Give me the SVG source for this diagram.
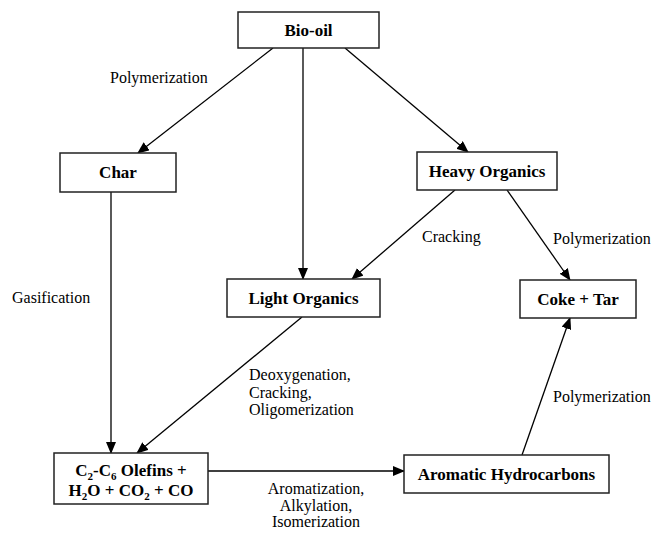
<svg xmlns="http://www.w3.org/2000/svg" width="654" height="534" viewBox="0 0 654 534">
<style>
.box{fill:#fff;stroke:#222;stroke-width:1.5}
.bl{font-family:"Liberation Serif","Times New Roman",serif;font-weight:bold;font-size:17px;fill:#000;text-anchor:middle}
.lb{font-family:"Liberation Serif","Times New Roman",serif;font-size:16px;fill:#000}
.ln{stroke:#000;stroke-width:1.3;fill:none;marker-end:url(#ah)}
</style>
<defs>
<marker id="ah" markerWidth="12" markerHeight="10" refX="11" refY="5" orient="auto" markerUnits="userSpaceOnUse">
<path d="M0,0 L12,5 L0,10 Z" fill="#000"/>
</marker>
</defs>
<rect width="654" height="534" fill="#fff"/>
<g id="connectors">
<line class="ln" x1="273" y1="48" x2="138" y2="153"/>
<line class="ln" x1="303" y1="48" x2="303" y2="279"/>
<line class="ln" x1="345" y1="48" x2="468" y2="152"/>
<line class="ln" x1="455" y1="190" x2="352" y2="279"/>
<line class="ln" x1="507" y1="190" x2="570" y2="280"/>
<line class="ln" x1="111" y1="192" x2="111" y2="453"/>
<line class="ln" x1="302" y1="317" x2="137" y2="453"/>
<line class="ln" x1="208" y1="471" x2="404" y2="471"/>
<line class="ln" x1="522" y1="455" x2="570" y2="318"/>
</g>
<g id="bio-oil"><rect class="box" x="238" y="12" width="141" height="36"/><text class="bl" x="308.5" y="36">Bio-oil</text></g>
<g id="char"><rect class="box" x="60" y="153" width="116" height="39"/><text class="bl" x="118" y="178">Char</text></g>
<g id="heavy"><rect class="box" x="417" y="152" width="140" height="38"/><text class="bl" x="487" y="177">Heavy Organics</text></g>
<g id="light"><rect class="box" x="227" y="279" width="153" height="38"/><text class="bl" x="303.5" y="304">Light Organics</text></g>
<g id="coke"><rect class="box" x="520" y="280" width="116" height="38"/><text class="bl" x="578" y="305">Coke + Tar</text></g>
<g id="olefins"><rect class="box" x="54" y="453" width="154" height="51"/>
<text class="bl" x="131" y="476">C<tspan font-size="11" dy="4">2</tspan><tspan dy="-4">-C</tspan><tspan font-size="11" dy="4">6</tspan><tspan dy="-4"> Olefins +</tspan></text>
<text class="bl" x="131" y="496">H<tspan font-size="11" dy="4">2</tspan><tspan dy="-4">O + CO</tspan><tspan font-size="11" dy="4">2</tspan><tspan dy="-4"> + CO</tspan></text></g>
<g id="aromatic"><rect class="box" x="404" y="455" width="205" height="38"/><text class="bl" x="506.5" y="480">Aromatic Hydrocarbons</text></g>
<g id="labels">
<text class="lb" x="110" y="83">Polymerization</text>
<text class="lb" x="12" y="303">Gasification</text>
<text class="lb" x="422" y="242">Cracking</text>
<text class="lb" x="553" y="244">Polymerization</text>
<text class="lb" x="553" y="402">Polymerization</text>
<text class="lb" x="249" y="380">Deoxygenation,</text>
<text class="lb" x="249" y="397.5">Cracking,</text>
<text class="lb" x="249" y="415">Oligomerization</text>
<text class="lb" x="316" y="494" text-anchor="middle">Aromatization,</text>
<text class="lb" x="316" y="510.5" text-anchor="middle">Alkylation,</text>
<text class="lb" x="316" y="527" text-anchor="middle">Isomerization</text>
</g>
</svg>
